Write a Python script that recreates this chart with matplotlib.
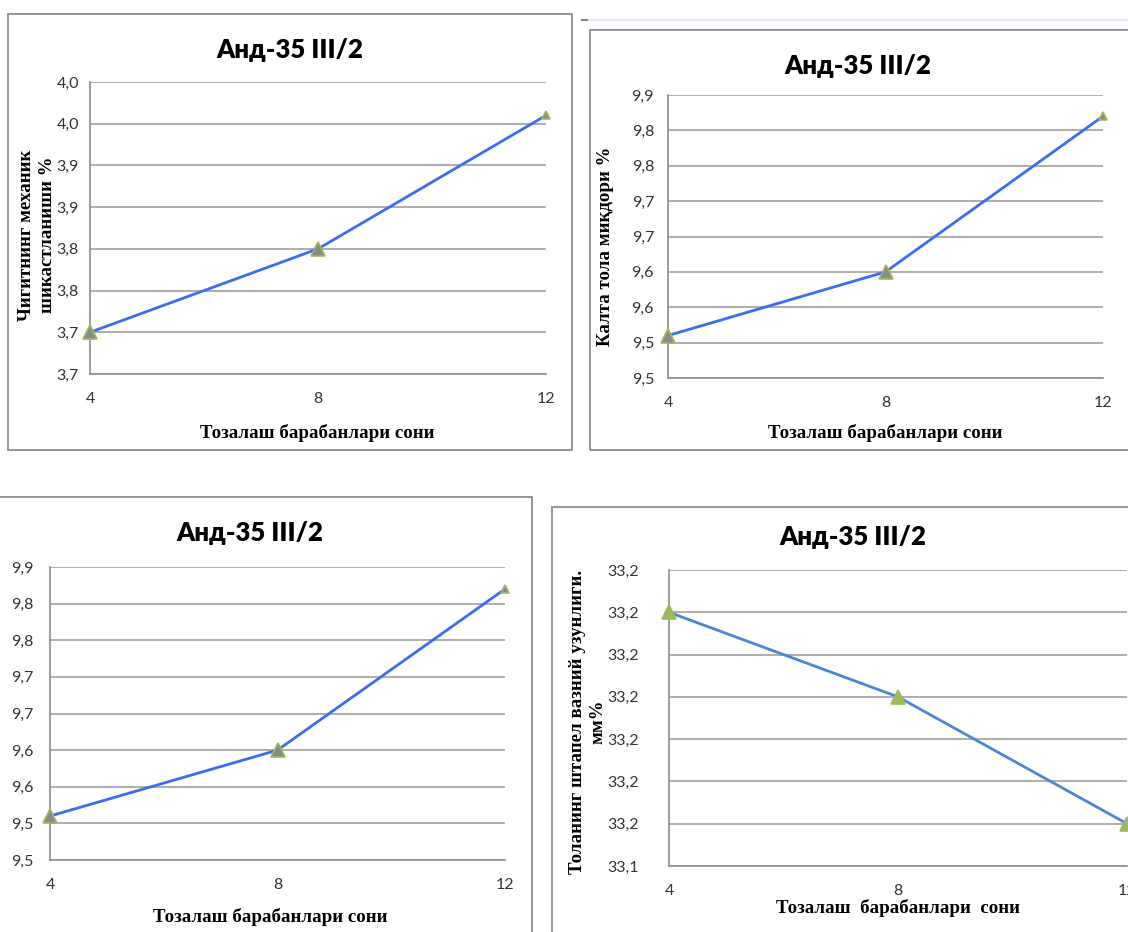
import matplotlib
matplotlib.use("Agg")
import matplotlib.pyplot as plt
from matplotlib.patches import Rectangle
from matplotlib.lines import Line2D

W, H = 1128, 932

# ---------------- data ----------------
title_text = "Анд-35 III/2"
x_vals = [4, 8, 12]
x_ticklabels = ["4", "8", "12"]
xlabel_text = "Тозалаш барабанлари сони"
xlabel_text4 = "Тозалаш  барабанлари  сони"

p1_values = [3.70, 3.80, 3.96]
p1_yticks = [3.65, 3.70, 3.75, 3.80, 3.85, 3.90, 3.95, 4.00]
p1_ylabels = ["3,7", "3,7", "3,8", "3,8", "3,9", "3,9", "4,0", "4,0"]
p1_ylabel = "Чигитнинг механик\nшикастланиши %"

p2_values = [9.51, 9.60, 9.82]
p2_yticks = [9.45, 9.50, 9.55, 9.60, 9.65, 9.70, 9.75, 9.80, 9.85]
p2_ylabels = ["9,5", "9,5", "9,6", "9,6", "9,7", "9,7", "9,8", "9,8", "9,9"]
p2_ylabel = "Калта тола миқдори %"

p3_values = [9.51, 9.60, 9.82]
p3_yticks = [9.45, 9.50, 9.55, 9.60, 9.65, 9.70, 9.75, 9.80, 9.85]
p3_ylabels = ["9,5", "9,5", "9,6", "9,6", "9,7", "9,7", "9,8", "9,8", "9,9"]

p4_values = [33.20, 33.18, 33.15]
p4_yticks = [33.14, 33.15, 33.16, 33.17, 33.18, 33.19, 33.20, 33.21]
p4_ylabels = ["33,1", "33,2", "33,2", "33,2", "33,2", "33,2", "33,2", "33,2"]
p4_ylabel = "Толанинг штапел вазний узунлиги.\nмм%"

# ---------------- style ----------------
TITLE_FONT = "Lato"
TICK_FONT = "Lato"
LABEL_FONT = "Liberation Serif"
GRID_C = "#a0a0a0"
SPINE_C = "#8c8c8c"
FRAME_C = "#8c8c8c"
TICK_C = "#333333"
TICK_FS = 11.5
LABEL_FS = 13.6

fig = plt.figure(figsize=(W / 100, H / 100), dpi=100)
fig.patch.set_facecolor("white")


def fx(px):
    return px / W


def fy(py):
    return 1 - py / H


def frame(x0, y0, x1, y1):
    fig.patches.append(Rectangle((fx(x0), fy(y1)), fx(x1) - fx(x0), fy(y0) - fy(y1),
                                 transform=fig.transFigure, fill=False,
                                 edgecolor=FRAME_C, linewidth=1.3, zorder=0))


def panel(box, values, yticks, ylabels, line_c, mfc, mec, msizes, ypad):
    x0, y0, x1, y1 = box
    ax = fig.add_axes([fx(x0), fy(y1), fx(x1) - fx(x0), fy(y0) - fy(y1)])
    ax.set_xlim(x_vals[0], x_vals[-1])
    ax.set_ylim(yticks[0], yticks[-1])
    ax.set_yticks(yticks)
    ax.set_yticklabels(ylabels, fontfamily=TICK_FONT, fontsize=TICK_FS, color=TICK_C)
    ax.set_xticks(x_vals)
    ax.set_xticklabels(x_ticklabels, fontfamily=TICK_FONT, fontsize=TICK_FS, color=TICK_C)
    ax.tick_params(axis="both", length=0)
    ax.tick_params(axis="x", pad=13)
    ax.tick_params(axis="y", pad=ypad)
    ax.grid(axis="y", color=GRID_C, linewidth=1.2)
    ax.set_axisbelow(True)
    for s in ("top", "right"):
        ax.spines[s].set_visible(False)
    for s in ("left", "bottom"):
        ax.spines[s].set_color(SPINE_C)
        ax.spines[s].set_linewidth(1.2)
    ax.plot(x_vals, values, color=line_c, linewidth=2.0, zorder=3, clip_on=False)
    for xv, yv, ms in zip(x_vals, values, msizes):
        ax.plot([xv], [yv], marker="^", markersize=ms, markerfacecolor=mfc,
                markeredgecolor=mec, markeredgewidth=1.2, linestyle="none",
                zorder=4, clip_on=False)
    return ax


def ftext(px, py, s, **kw):
    fig.text(fx(px), fy(py), s, ha="center", va="center", **kw)


# frames
frame(8, 14, 572, 450)
frame(590, 30, 1140, 450)
frame(-5, 497, 532, 945)
frame(552, 507, 1140, 945)

# thin light-blue rule at the top right
fig.lines.append(Line2D([fx(586), fx(1128)], [fy(20), fy(20)], transform=fig.transFigure,
                        color="#dce8f8", linewidth=1.5))
fig.lines.append(Line2D([fx(582), fx(587)], [fy(20), fy(20)], transform=fig.transFigure,
                        color="#888888", linewidth=1.5))

c_bright = "#3a6cf4"
c_soft = "#4a86d4"
gray_m = "#8a8a8a"
green_m = "#9bbb59"

panel((90, 82, 546, 374), p1_values, p1_yticks, p1_ylabels, c_bright, gray_m, green_m, [10, 10, 6], 8)
panel((668, 95, 1103, 378), p2_values, p2_yticks, p2_ylabels, c_bright, gray_m, green_m, [10, 10, 6], 10)
panel((50, 567, 505, 860), p3_values, p3_yticks, p3_ylabels, c_bright, gray_m, green_m, [10, 10, 6], 12)
panel((669, 570, 1127, 866), p4_values, p4_yticks, p4_ylabels, c_soft, green_m, green_m, [10, 10, 10], 22)

# titles
for (tx, ty) in [(290, 50), (858, 66), (250, 533), (853, 537)]:
    ftext(tx, ty, title_text, fontfamily=TITLE_FONT, fontweight="heavy", fontsize=18.5, color="black")

# x labels
for (tx, ty, s) in [(317, 433, xlabel_text), (885, 433, xlabel_text), (270, 917, xlabel_text),
                    (898, 908, xlabel_text4)]:
    ftext(tx, ty, s, fontfamily=LABEL_FONT, fontweight="bold", fontsize=LABEL_FS, color="black")

# y labels
lines1 = p1_ylabel.split("\n")
ftext(27, 235, lines1[0], fontfamily=LABEL_FONT, fontweight="bold", fontsize=LABEL_FS, rotation=90)
ftext(48, 235, lines1[1], fontfamily=LABEL_FONT, fontweight="bold", fontsize=LABEL_FS, rotation=90)
ftext(605, 246, p2_ylabel, fontfamily=LABEL_FONT, fontweight="bold", fontsize=LABEL_FS, rotation=90)
lines4 = p4_ylabel.split("\n")
ftext(578, 722, lines4[0], fontfamily=LABEL_FONT, fontweight="bold", fontsize=LABEL_FS, rotation=90)
ftext(598, 722, lines4[1], fontfamily=LABEL_FONT, fontweight="bold", fontsize=LABEL_FS, rotation=90)

fig.savefig("out.png", dpi=100, facecolor="white")
